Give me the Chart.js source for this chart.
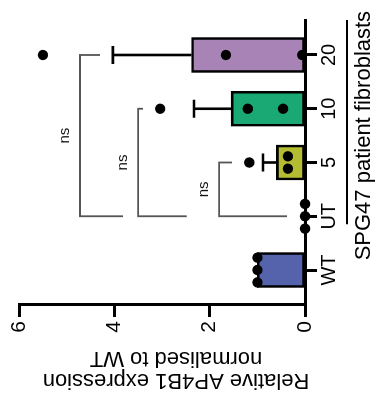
<!DOCTYPE html>
<html>
<head>
<meta charset="utf-8">
<script src="https://cdn.jsdelivr.net/npm/chart.js@4.4.0/dist/chart.umd.min.js"></script>
<style>
  html, body { margin: 0; padding: 0; background: #fff; overflow: hidden; }
  /* the figure is drawn upright, then turned a quarter to the left like the source */
  #wrap { position: absolute; left: 0; top: 0; width: 404px; height: 376px;
          transform-origin: 0 0; transform: translateY(404px) rotate(-90deg); }
</style>
</head>
<body>
<div id="wrap"><canvas id="chart" width="404" height="376"></canvas></div>
<script>
const categories = ['WT', 'UT', '5', '10', '20'];
const means = [1.0, 0, 0.6, 1.55, 2.38];
const sem = [0, 0, 0.28, 0.78, 1.65];
const replicates = [
    [1.0, 1.0, 1.0],
    [0, 0, 0],
    [0.36, 0.36, 1.17],
    [3.04, 1.2, 0.46],
    [5.5, 1.66, 0.06]
];
const barColors = ['#5563ad', 'rgba(0,0,0,0)', '#b4bc32', '#1aa874', '#a784b5'];
const yTicks = [0, 2, 4, 6];
const yTitle = ['Relative AP4B1 expression', 'normalised to WT'];
const groupLabel = 'SPG47 patient fibroblasts';
// comparisons vs UT: category a / b, bracket level, arm ends
const brackets = [
    { a: 4, b: 1, level: 4.72, endA: 4.30, endB: 3.82, text: 'ns' },
    { a: 3, b: 1, level: 3.50, endA: 3.40, endB: 2.48, text: 'ns' },
    { a: 2, b: 1, level: 1.80, endA: 1.53, endB: 0.38, text: 'ns' }
];

const FONT = '"Liberation Sans", Arial, sans-serif';
const DOT_GAP = 0.23;

// simple swarm: equal values spread sideways
function swarm(vals, i) {
    const pts = [];
    const used = vals.map(() => false);
    vals.forEach((v, k) => {
        if (used[k]) return;
        const grp = vals.map((w, j) => j).filter(j => !used[j] && Math.abs(vals[j] - v) < 0.2);
        grp.forEach((j, n) => {
            used[j] = true;
            pts.push({ x: i + (n - (grp.length - 1) / 2) * DOT_GAP, y: vals[j] });
        });
    });
    return pts;
}
const dots = replicates.flatMap((vals, i) => swarm(vals, i));

const extras = {
    id: 'extras',
    afterDatasetDraw(chart, args) {
        if (args.index !== 0) return;
        const { ctx, scales: { x, y } } = chart;
        ctx.save();
        // error bars (upper SEM)
        ctx.strokeStyle = '#000';
        ctx.lineWidth = 2.6;
        means.forEach((m, i) => {
            if (!sem[i]) return;
            const px = x.getPixelForValue(i);
            const top = y.getPixelForValue(m + sem[i]);
            ctx.beginPath();
            ctx.moveTo(px, y.getPixelForValue(m));
            ctx.lineTo(px, top);
            ctx.moveTo(px - 9, top);
            ctx.lineTo(px + 9, top);
            ctx.stroke();
        });
        // significance brackets
        ctx.strokeStyle = '#555';
        ctx.lineWidth = 1.8;
        ctx.fillStyle = '#111';
        ctx.font = '15px ' + FONT;
        ctx.textAlign = 'center';
        ctx.textBaseline = 'middle';
        brackets.forEach(b => {
            const xa = x.getPixelForValue(b.a), xb = x.getPixelForValue(b.b);
            const ly = y.getPixelForValue(b.level);
            ctx.beginPath();
            ctx.moveTo(xa, y.getPixelForValue(b.endA));
            ctx.lineTo(xa, ly);
            ctx.lineTo(xb, ly);
            ctx.lineTo(xb, y.getPixelForValue(b.endB));
            ctx.stroke();
            ctx.fillText(b.text, (xa + xb) / 2, ly - 15);
        });
        ctx.restore();
    },
    afterDraw(chart) {
        const { ctx, chartArea, scales: { x } } = chart;
        ctx.save();
        ctx.fillStyle = '#000';
        // value axis title, two lines
        ctx.font = '22px ' + FONT;
        ctx.textAlign = 'center';
        ctx.textBaseline = 'alphabetic';
        ctx.translate(0, 176);
        ctx.rotate(-Math.PI / 2);
        ctx.fillText(yTitle[0], 0, 30);
        ctx.fillText(yTitle[1], 0, 52);
        ctx.restore();
        // group line + label under the patient lines
        ctx.save();
        ctx.strokeStyle = '#000';
        ctx.lineWidth = 2;
        ctx.beginPath();
        ctx.moveTo(x.getPixelForValue(1) - 8, 347);
        ctx.lineTo(chartArea.right, 347);
        ctx.stroke();
        ctx.fillStyle = '#000';
        ctx.font = '22px ' + FONT;
        ctx.textAlign = 'center';
        ctx.textBaseline = 'middle';
        ctx.fillText(groupLabel, x.getPixelForValue(2.5), 364);
        ctx.restore();
    }
};

new Chart(document.getElementById('chart'), {
    type: 'bar',
    data: {
        datasets: [{
            data: means.map((m, i) => ({ x: i, y: m })),
            backgroundColor: barColors,
            borderColor: '#000',
            borderWidth: means.map(m => m ? 2.6 : 0),
            borderSkipped: false,
            barThickness: 35,
            order: 1
        }, {
            type: 'scatter',
            data: dots,
            pointRadius: 5.2,
            pointBackgroundColor: '#000',
            pointBorderWidth: 0,
            clip: false,
            order: 0
        }]
    },
    options: {
        responsive: false,
        animation: false,
        devicePixelRatio: 1,
        events: [],
        layout: { padding: { top: 19, right: 20, bottom: 0, left: 0 } },
        plugins: { legend: { display: false }, tooltip: { enabled: false } },
        scales: {
            x: {
                type: 'linear', min: -0.651, max: 4.651, bounds: 'data', offset: false,
                afterBuildTicks: s => { s.ticks = categories.map((c, i) => ({ value: i })); },
                afterFit: s => { s.height = 71; },
                ticks: { callback: v => categories[v], color: '#000', font: { family: FONT, size: 20 },
                         padding: 0, maxRotation: 0, autoSkip: false },
                grid: { display: true, drawOnChartArea: false, drawTicks: true, offset: false,
                        tickLength: 12, tickWidth: 3, tickColor: '#000' },
                border: { display: true, color: '#000', width: 3 }
            },
            y: {
                type: 'linear', min: 0, max: 6,
                afterBuildTicks: s => { s.ticks = yTicks.map(v => ({ value: v })); },
                afterFit: s => { s.width = 99; },
                ticks: { color: '#000', font: { family: FONT, size: 21 }, padding: 4 },
                grid: { display: true, drawOnChartArea: false, drawTicks: true,
                        tickLength: 12, tickWidth: 3, tickColor: '#000' },
                border: { display: true, color: '#000', width: 3 }
            }
        }
    },
    plugins: [extras]
});
</script>
</body>
</html>
